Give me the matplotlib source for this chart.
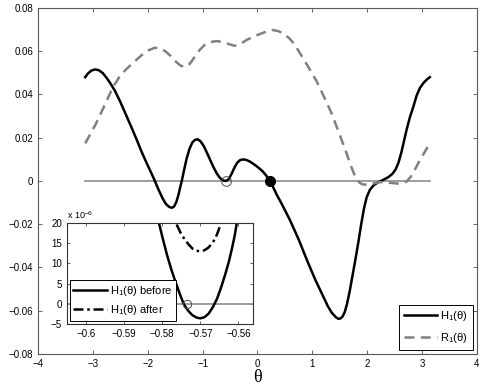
import matplotlib
matplotlib.use('Agg')
import matplotlib.pyplot as plt

plt.rcParams['font.family'] = ['Liberation Sans', 'DejaVu Sans']
plt.rcParams['mathtext.fontset'] = 'custom'
plt.rcParams['mathtext.rm'] = 'Liberation Sans'

# H1(theta) on the full range
h1_x = [-3.14, -3.09, -3.03, -2.96, -2.89, -2.82, -2.75, -2.68, -2.60, -2.50, -2.40,
        -2.30, -2.20, -2.10, -2.00, -1.93, -1.87, -1.80, -1.73, -1.67, -1.61, -1.56,
        -1.52, -1.48, -1.44, -1.40, -1.38, -1.34, -1.29, -1.24, -1.19, -1.14, -1.09,
        -1.04, -0.98, -0.92, -0.86, -0.80, -0.74, -0.68, -0.62, -0.57, -0.52, -0.47,
        -0.42, -0.37, -0.32, -0.26, -0.20, -0.14, -0.08, -0.02, 0.04, 0.10, 0.15, 0.19,
        0.228, 0.28, 0.35, 0.45, 0.59, 0.75, 0.90, 1.05, 1.20, 1.28, 1.35, 1.42, 1.47,
        1.51, 1.55, 1.59, 1.63, 1.68, 1.73, 1.79, 1.84, 1.89, 1.94, 1.99, 2.05, 2.12,
        2.20, 2.29, 2.38, 2.46, 2.52, 2.57, 2.62, 2.67, 2.72, 2.78, 2.84, 2.90, 2.96,
        3.03, 3.09, 3.14]
h1_y = [0.0480, 0.0497, 0.0510, 0.0516, 0.0512, 0.0499, 0.0477, 0.0451, 0.0418, 0.0366,
        0.0308, 0.0250, 0.0190, 0.0128, 0.0072, 0.0034, 0.0, -0.0042, -0.0080, -0.0106,
        -0.0120, -0.0124, -0.0118, -0.0098, -0.0064, -0.0020, 0.0, 0.0048, 0.0105,
        0.0148, 0.0177, 0.0190, 0.0193, 0.0184, 0.0162, 0.0130, 0.0096, 0.0063, 0.0034,
        0.0013, 0.0002, 0.0, 0.0010, 0.0034, 0.0062, 0.0084, 0.0096, 0.0100, 0.0097,
        0.0090, 0.0080, 0.0069, 0.0057, 0.0043, 0.0028, 0.0014, 0.0, -0.0026, -0.0063,
        -0.0110, -0.0180, -0.0270, -0.0365, -0.0455, -0.0535, -0.0578, -0.0608, -0.0628,
        -0.0637, -0.0636, -0.0627, -0.0606, -0.0570, -0.0510, -0.0440, -0.0355, -0.0280,
        -0.0200, -0.0128, -0.0075, -0.0040, -0.0019, -0.0006, 0.0005, 0.0017, 0.0033,
        0.0055, 0.0085, 0.0130, 0.0185, 0.0240, 0.0297, 0.0343, 0.0395, 0.0430, 0.0455,
        0.0470, 0.0480]

# R1(theta)
r1_x = [-3.14, -3.05, -2.95, -2.85, -2.75, -2.63, -2.52, -2.40, -2.26, -2.12, -2.00,
        -1.87, -1.78, -1.68, -1.58, -1.48, -1.40, -1.32, -1.24, -1.16, -1.06, -0.96,
        -0.85, -0.74, -0.63, -0.52, -0.42, -0.32, -0.20, -0.05, 0.10, 0.20, 0.28, 0.38,
        0.48, 0.58, 0.68, 0.80, 0.92, 1.08, 1.22, 1.35, 1.50, 1.62, 1.70, 1.76, 1.81,
        1.86, 1.92, 2.00, 2.10, 2.23, 2.40, 2.55, 2.65, 2.72, 2.80, 2.88, 2.96, 3.05,
        3.14]
r1_y = [0.0174, 0.0215, 0.0262, 0.0315, 0.0370, 0.0436, 0.0480, 0.0515, 0.0548, 0.0580,
        0.0603, 0.0616, 0.0614, 0.0600, 0.0577, 0.0550, 0.0533, 0.0527, 0.0540, 0.0568,
        0.0604, 0.0630, 0.0643, 0.0647, 0.0642, 0.0633, 0.0625, 0.0632, 0.0652, 0.0670,
        0.0685, 0.0695, 0.0698, 0.0693, 0.0680, 0.0660, 0.0630, 0.0580, 0.0530, 0.0460,
        0.0385, 0.0313, 0.0213, 0.0130, 0.0072, 0.0033, 0.0010, -0.0008, -0.0016,
        -0.0017, -0.0012, -0.0005, -0.0008, -0.0012, -0.0010, -0.0002, 0.0022, 0.0058,
        0.0097, 0.0135, 0.0174]

# zoomed region near theta = -0.57 (units of 1e-6)
before_x = [-0.5809, -0.5798, -0.5787, -0.5776, -0.5765, -0.5754, -0.5743, -0.5732,
            -0.5721, -0.5710, -0.5700, -0.5689, -0.5678, -0.5667, -0.5656, -0.5645,
            -0.5634, -0.5625, -0.5617, -0.5610, -0.5604]
before_y = [20.2, 16.0, 12.0, 8.5, 5.4, 2.5, -0.15, -1.7, -2.8, -3.4, -3.6, -3.3, -2.4,
            -0.8, 1.3, 4.2, 7.5, 10.5, 13.7, 16.8, 20.2]
after_x = [-0.5762, -0.5752, -0.5741, -0.5730, -0.5720, -0.5710, -0.5700, -0.5690,
           -0.5680, -0.5670, -0.5660, -0.5652, -0.5646]
after_y = [19.6, 17.6, 15.9, 14.6, 13.6, 13.1, 13.0, 13.2, 13.8, 14.8, 16.3, 18.2, 20.1]

open_pt = (-0.5735, 0.0)
fixed_pt = (0.228, 0.0)

fig = plt.figure(figsize=(4.98, 3.89), dpi=100)
ax = fig.add_axes([0.0763, 0.09, 0.8815, 0.8895])

ax.plot([-3.1416, 3.1416], [0, 0], color='0.55', lw=1.2)
l1, = ax.plot(h1_x, h1_y, color='black', lw=1.8, label=r'H$_1$(θ)')
l2, = ax.plot(r1_x, r1_y, color='0.5', lw=1.8, ls=(0, (4, 2.5)), label=r'R$_1$(θ)')
ax.plot(*open_pt, marker='o', ms=7, mfc='none', mec='0.3', mew=0.7)
ax.plot(*fixed_pt, marker='o', ms=7, color='black')

ax.set_xlim(-4, 4)
ax.set_ylim(-0.08, 0.08)
ax.set_xticks(range(-4, 5))
ax.set_yticks([-0.08, -0.06, -0.04, -0.02, 0, 0.02, 0.04, 0.06, 0.08])
ax.set_yticklabels(['\u22120.08', '\u22120.06', '\u22120.04', '\u22120.02', '0',
                    '0.02', '0.04', '0.06', '0.08'])
ax.tick_params(direction='in', top=True, right=True, labelsize=7, length=3,
               width=0.6, color='0.3')
for s in ax.spines.values():
    s.set_color('0.35')
    s.set_linewidth(0.8)
ax.set_xlabel('θ', family=['Liberation Serif', 'DejaVu Serif'], fontsize=13, labelpad=0)

leg = ax.legend(handles=[l1, l2], loc='lower right', fontsize=8, handlelength=3,
                fancybox=False, edgecolor='black', framealpha=1,
                borderaxespad=0.4, handletextpad=0.3, borderpad=0.4,
                labelspacing=0.7)
leg.get_frame().set_linewidth(0.7)

# inset
ins = fig.add_axes([0.134, 0.167, 0.374, 0.26])
ins.plot([-0.61, -0.55], [0, 0], color='0.55', lw=1.2)
b1, = ins.plot(before_x, before_y, color='black', lw=1.8, label=r'H$_1$(θ) before')
b2, = ins.plot(after_x, after_y, color='black', lw=1.8, ls=(0, (4, 1.5, 1, 1.5)),
               label=r'H$_1$(θ) after')
ins.plot(*open_pt, marker='o', ms=6, mfc='none', mec='0.3', mew=0.7)
ins.set_xlim(-0.605, -0.5562)
ins.set_ylim(-5, 20)
ins.set_xticks([-0.6, -0.59, -0.58, -0.57, -0.56])
ins.set_xticklabels(['\u22120.6', '\u22120.59', '\u22120.58', '\u22120.57', '\u22120.56'])
ins.set_yticks([-5, 0, 5, 10, 15, 20])
ins.set_yticklabels(['\u22125', '0', '5', '10', '15', '20'])
ins.tick_params(direction='in', top=True, right=True, labelsize=7, length=2,
                width=0.6, color='0.3')
for s in ins.spines.values():
    s.set_color('0.2')
    s.set_linewidth(0.8)
ins.text(0.0, 1.015, r'x 10$^{-6}$', transform=ins.transAxes, fontsize=6.5,
         va='bottom', ha='left')
leg2 = ins.legend(handles=[b1, b2], loc='lower left', fontsize=8, handlelength=3,
                  fancybox=False, edgecolor='black', framealpha=1,
                  borderaxespad=0.3, handletextpad=0.3, borderpad=0.3,
                  labelspacing=0.5)
leg2.get_frame().set_linewidth(0.7)

fig.savefig('out.png', dpi=100)
